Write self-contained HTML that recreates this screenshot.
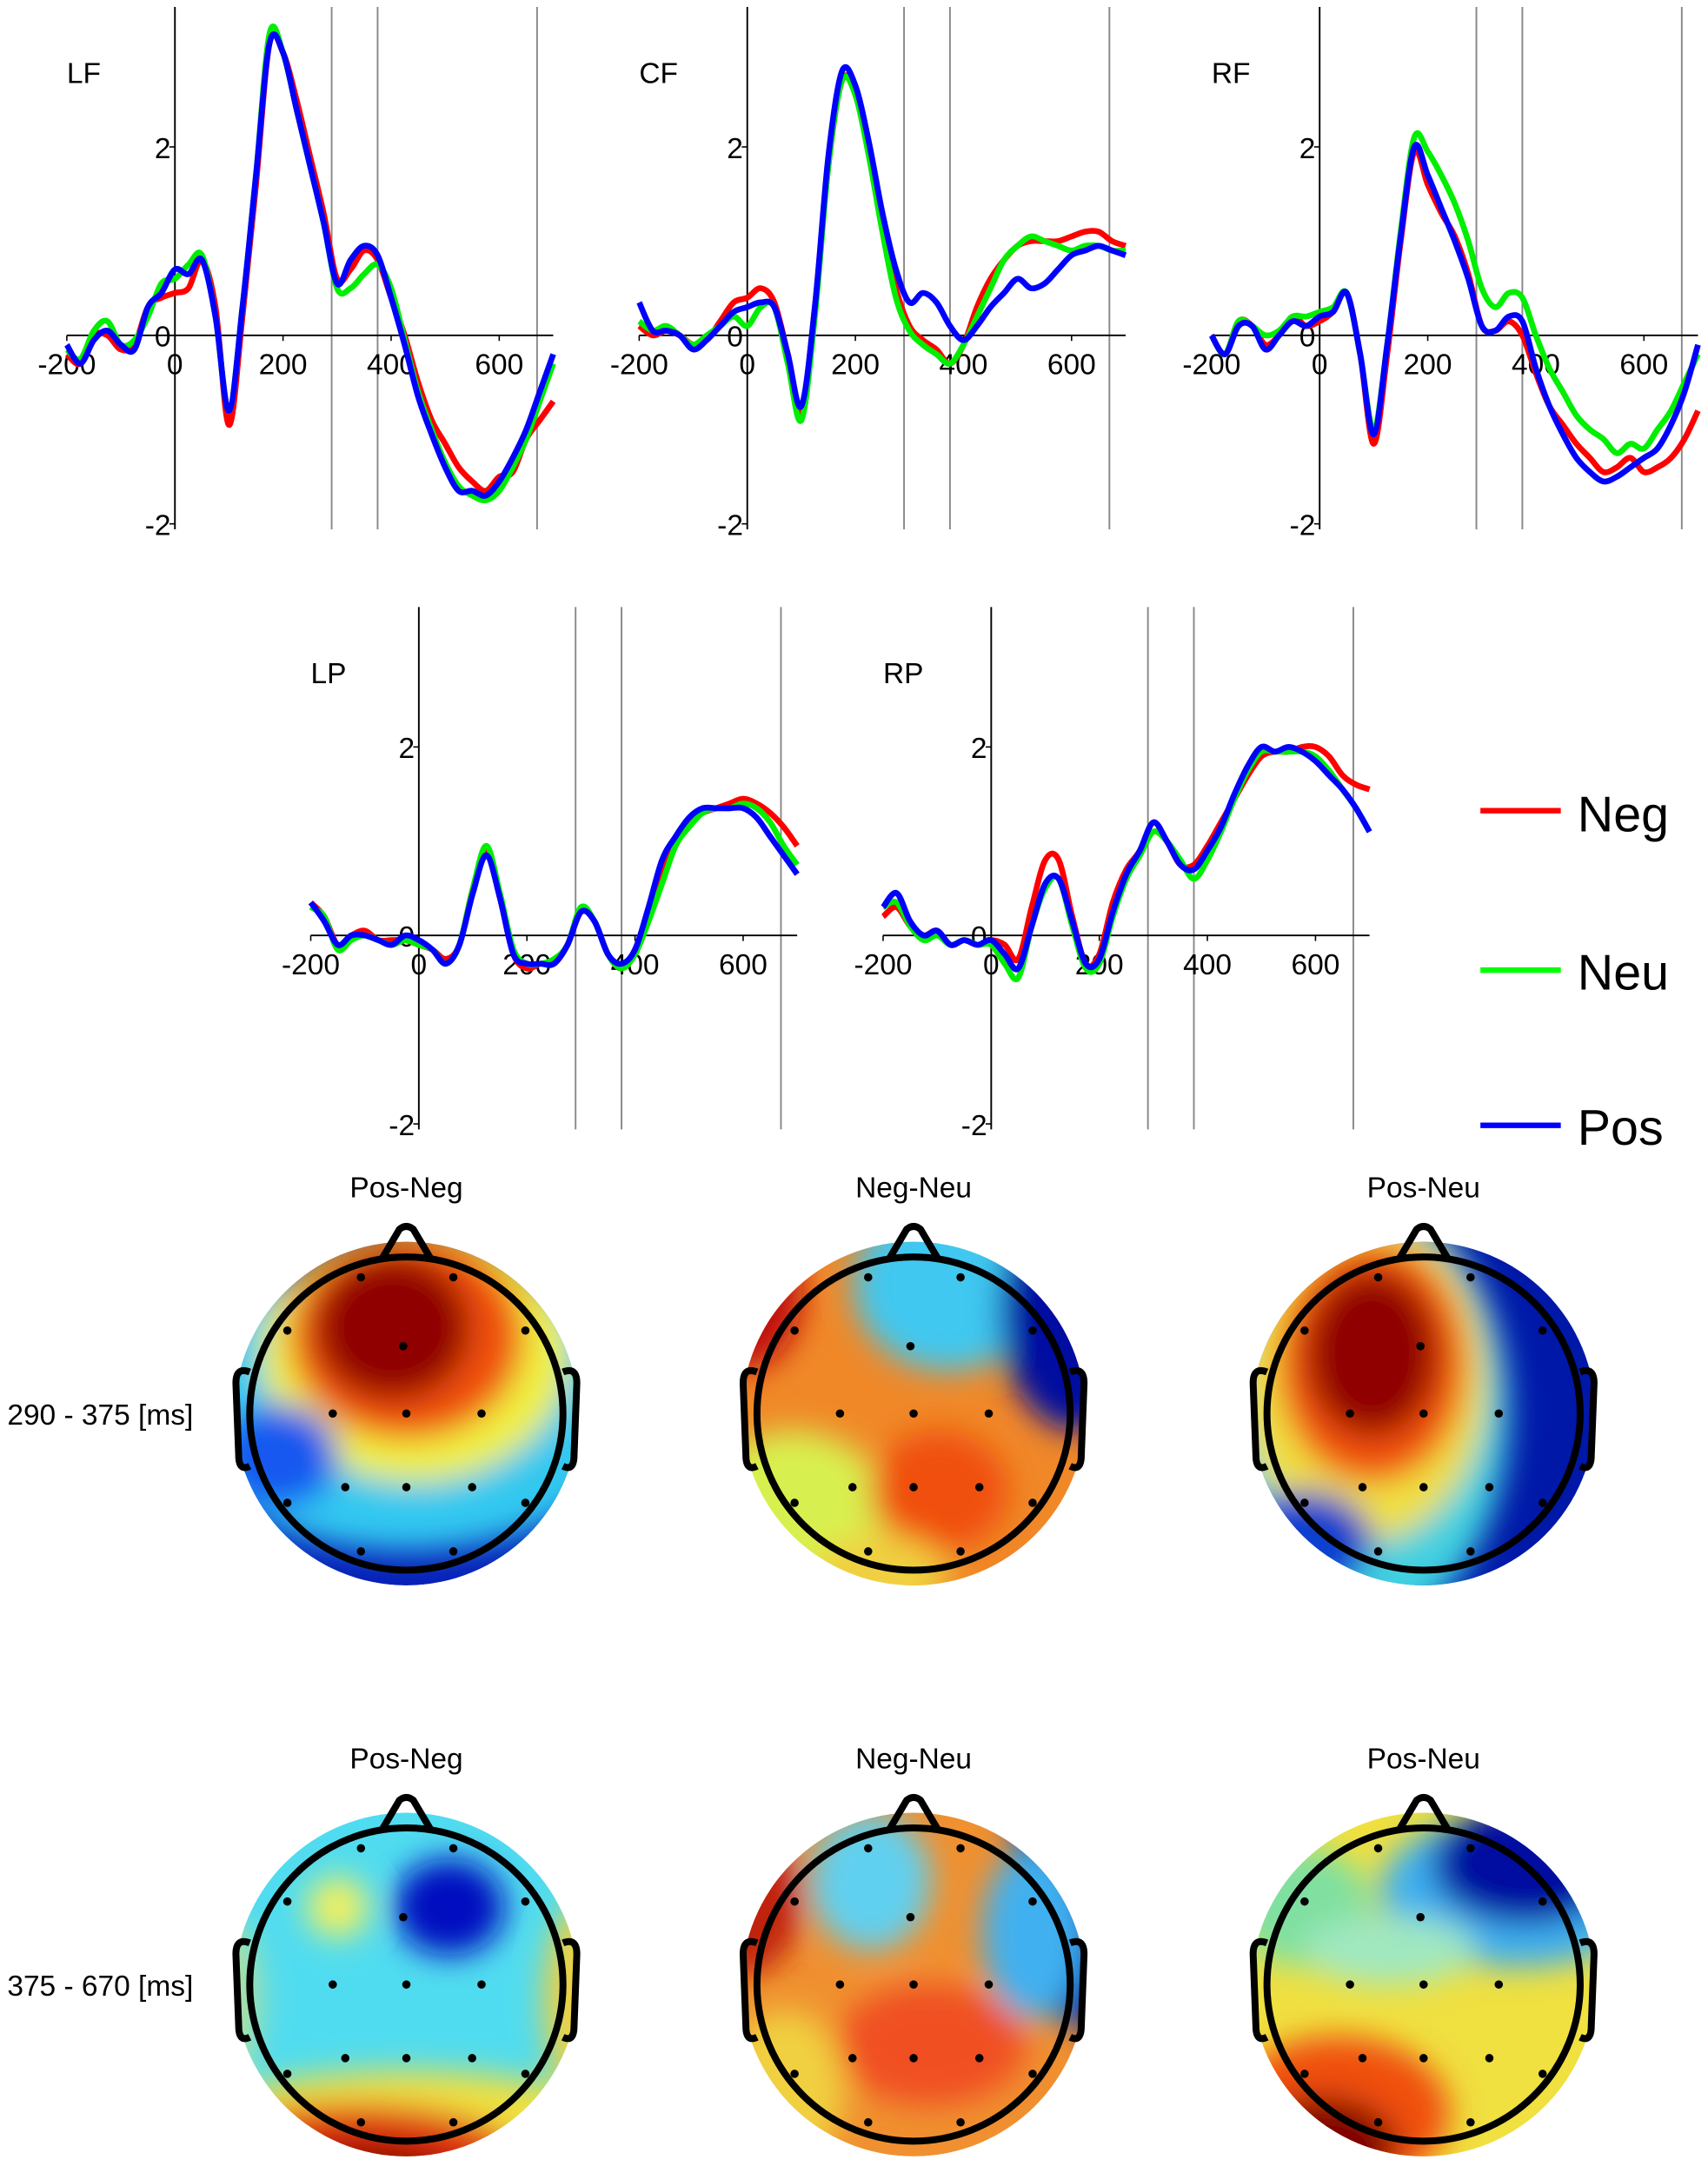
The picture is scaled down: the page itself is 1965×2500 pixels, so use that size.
<!DOCTYPE html>
<html><head><meta charset="utf-8"><style>
html,body{margin:0;padding:0;background:#fff;}
svg{display:block;font-family:"Liberation Sans",sans-serif;}
</style></head><body>
<svg id="fig" width="1965" height="2500" viewBox="0 0 1232 1568" xmlns="http://www.w3.org/2000/svg">
<defs><filter id="blur" x="-50%" y="-50%" width="200%" height="200%"><feGaussianBlur stdDeviation="11"/></filter></defs>
<g id="plots"></g>
<g id="legend">
 <line x1="1068" y1="585" x2="1126" y2="585" stroke="#f00" stroke-width="4"/>
 <text x="1138" y="600" font-size="36">Neg</text>
 <line x1="1068" y1="700" x2="1126" y2="700" stroke="#0f0" stroke-width="4"/>
 <text x="1138" y="714" font-size="36">Neu</text>
 <line x1="1068" y1="812" x2="1126" y2="812" stroke="#00f" stroke-width="4"/>
 <text x="1138" y="826" font-size="36">Pos</text>
</g>
<g id="topos"></g>
</svg>
<script>
const times=[];for(let t=-200;t<=700;t+=25)times.push(t);
const yTicks=[-2,0,2];
const xTicks=[-200,0,200,400,600];
const windows=[290,375,670];
const panelNames=['LF','CF','RF','LP','RP'];
const lfNeg=[-0.2,-0.3,0.0,0.0,-0.15,-0.1,0.3,0.4,0.45,0.5,0.8,0.3,-0.95,0.2,1.6,3.1,3.0,2.5,1.9,1.3,0.6,0.7,0.9,0.8,0.4,0.0,-0.5,-0.9,-1.15,-1.4,-1.55,-1.65,-1.5,-1.45,-1.1,-0.9,-0.7];
const lfNeu=[-0.15,-0.25,0.05,0.15,-0.1,-0.05,0.2,0.55,0.6,0.75,0.85,0.2,-0.8,0.3,1.7,3.2,3.0,2.4,1.8,1.2,0.5,0.5,0.65,0.75,0.5,-0.05,-0.6,-1.0,-1.35,-1.6,-1.7,-1.75,-1.65,-1.4,-1.1,-0.7,-0.3];
const lfPos=[-0.1,-0.3,-0.05,0.05,-0.1,-0.15,0.3,0.45,0.7,0.65,0.8,0.2,-0.8,0.3,1.7,3.1,3.0,2.4,1.8,1.2,0.55,0.8,0.95,0.85,0.4,-0.1,-0.65,-1.05,-1.4,-1.65,-1.65,-1.7,-1.55,-1.3,-1.0,-0.6,-0.2];
const cfNeg=[0.1,0.0,0.05,0.0,-0.1,-0.05,0.15,0.35,0.4,0.5,0.35,-0.2,-0.8,0.3,1.8,2.7,2.6,2.0,1.2,0.5,0.1,-0.05,-0.15,-0.3,-0.1,0.3,0.6,0.8,0.95,1.0,1.0,1.0,1.05,1.1,1.1,1.0,0.95];
const cfNeu=[0.15,0.05,0.1,0.0,-0.1,0.0,0.1,0.2,0.1,0.3,0.3,-0.3,-0.9,0.2,1.8,2.7,2.55,1.9,1.1,0.4,0.05,-0.1,-0.2,-0.3,-0.1,0.2,0.5,0.8,0.95,1.05,1.0,0.95,0.9,0.95,0.95,0.9,0.9];
const cfPos=[0.35,0.05,0.05,0.0,-0.15,-0.05,0.1,0.25,0.3,0.35,0.3,-0.2,-0.75,0.3,1.9,2.8,2.65,2.05,1.3,0.7,0.35,0.45,0.35,0.1,-0.05,0.1,0.3,0.45,0.6,0.5,0.55,0.7,0.85,0.9,0.95,0.9,0.85];
const rfNeg=[0.0,-0.2,0.15,0.1,-0.1,0.0,0.2,0.1,0.15,0.25,0.45,-0.2,-1.15,-0.2,1.0,1.95,1.6,1.3,1.05,0.65,0.1,0.05,0.15,0.0,-0.4,-0.75,-0.95,-1.15,-1.3,-1.45,-1.4,-1.3,-1.45,-1.4,-1.3,-1.1,-0.8];
const rfNeu=[0.0,-0.2,0.15,0.1,0.0,0.05,0.2,0.2,0.25,0.3,0.45,-0.2,-1.0,-0.1,1.1,2.1,1.95,1.7,1.4,1.0,0.5,0.3,0.45,0.4,0.0,-0.35,-0.6,-0.85,-1.0,-1.1,-1.25,-1.15,-1.2,-1.0,-0.8,-0.5,-0.2];
const rfPos=[0.0,-0.2,0.1,0.1,-0.15,0.0,0.15,0.1,0.2,0.25,0.45,-0.2,-1.05,-0.1,1.05,2.0,1.7,1.35,1.0,0.6,0.1,0.05,0.2,0.15,-0.35,-0.75,-1.05,-1.3,-1.45,-1.55,-1.5,-1.4,-1.3,-1.2,-0.95,-0.6,-0.1];
const lpNeg=[0.35,0.2,-0.1,0.0,0.05,-0.05,-0.05,-0.05,-0.1,-0.15,-0.25,-0.1,0.5,0.9,0.4,-0.2,-0.35,-0.3,-0.3,-0.1,0.25,0.15,-0.2,-0.35,-0.15,0.25,0.7,1.0,1.2,1.3,1.35,1.4,1.45,1.4,1.3,1.15,0.95];
const lpNeu=[0.3,0.2,-0.15,-0.05,0.0,-0.05,-0.1,-0.05,-0.1,-0.15,-0.3,-0.1,0.5,0.95,0.45,-0.15,-0.3,-0.3,-0.25,-0.1,0.3,0.15,-0.2,-0.35,-0.2,0.15,0.55,0.95,1.15,1.3,1.35,1.35,1.4,1.35,1.2,0.95,0.75];
const lpPos=[0.35,0.15,-0.1,0.0,0.0,-0.05,-0.1,0.0,-0.05,-0.15,-0.3,-0.1,0.45,0.85,0.4,-0.2,-0.3,-0.3,-0.3,-0.1,0.25,0.15,-0.2,-0.3,-0.15,0.3,0.8,1.05,1.25,1.35,1.35,1.35,1.35,1.25,1.05,0.85,0.65];
const rpNeg=[0.2,0.3,0.1,0.0,0.05,-0.1,-0.05,-0.1,-0.05,-0.1,-0.25,0.3,0.8,0.8,0.2,-0.3,-0.2,0.35,0.7,0.9,1.2,1.0,0.75,0.75,0.95,1.2,1.45,1.7,1.9,1.95,1.95,2.0,2.0,1.9,1.7,1.6,1.55];
const rpNeu=[0.3,0.35,0.1,-0.05,0.0,-0.1,-0.05,-0.1,-0.1,-0.3,-0.45,0.1,0.5,0.6,0.1,-0.35,-0.3,0.2,0.6,0.85,1.1,1.0,0.8,0.6,0.8,1.1,1.45,1.75,1.95,1.95,1.95,1.95,1.9,1.75,1.55,1.35,1.1];
const rpPos=[0.3,0.45,0.15,0.0,0.05,-0.1,-0.05,-0.1,-0.05,-0.2,-0.35,0.1,0.55,0.6,0.15,-0.3,-0.25,0.25,0.65,0.9,1.2,1.0,0.75,0.7,0.9,1.15,1.5,1.8,2.0,1.95,2.0,1.95,1.85,1.7,1.55,1.35,1.1];
const panelData=[[lfNeg,lfNeu,lfPos],[cfNeg,cfNeu,cfPos],[rfNeg,rfNeu,rfPos],[lpNeg,lpNeu,lpPos],[rpNeg,rpNeu,rpPos]];
const panelOrigins=[[126,242],[539,242],[952,242],[302,675],[715,675]];
const colors=['#ff0000','#00ee00','#0000ff'];
const NS='http://www.w3.org/2000/svg';
function mk(tag,attrs,parent){const e=document.createElementNS(NS,tag);for(const k in attrs)e.setAttribute(k,attrs[k]);parent.appendChild(e);return e;}
const plots=document.getElementById('plots');
const sx=0.39, sy=68;
panelData.forEach((series,pi)=>{
  const [ox,oy]=panelOrigins[pi];
  const X=t=>ox+t*sx, Y=v=>oy-v*sy;
  const g=mk('g',{},plots);
  
  
  windows.forEach(w=>{const l=mk('line',{x1:X(w),x2:X(w),y1:oy-237,y2:oy+140,stroke:'#888','stroke-width':1.2},g);
    });
  const ya=mk('line',{x1:ox,x2:ox,y1:oy-237,y2:oy+140,stroke:'#000','stroke-width':1.2},g);
  
  const xa=mk('line',{x1:X(-200),x2:X(700),y1:oy,y2:oy,stroke:'#000','stroke-width':1.2},g);
  
  yTicks.forEach(v=>{mk('line',{x1:ox-4,x2:ox,y1:Y(v),y2:Y(v),stroke:'#000'},g);
    const t=mk('text',{x:ox-3,y:Y(v)+8,'font-size':21,'text-anchor':'end'},g);t.textContent=v;
    });
  xTicks.forEach(v=>{mk('line',{x1:X(v),x2:X(v),y1:oy,y2:oy+4,stroke:'#000'},g);
    const t=mk('text',{x:X(v),y:oy+28,'font-size':21,'text-anchor':'middle'},g);t.textContent=v;
    });
  const lab=mk('text',{x:ox-78,y:oy-182,'font-size':21},g);lab.textContent=panelNames[pi];
  
  series.forEach((vals,si)=>{
    const pts=vals.map((v,i)=>[X(times[i]),Y(v)]);
    let d='M'+pts[0][0]+','+pts[0][1];
    for(let i=0;i<pts.length-1;i++){const p0=pts[Math.max(0,i-1)],p1=pts[i],p2=pts[i+1],p3=pts[Math.min(pts.length-1,i+2)];
      d+=` C${p1[0]+(p2[0]-p0[0])/6},${p1[1]+(p2[1]-p0[1])/6} ${p2[0]-(p3[0]-p1[0])/6},${p2[1]-(p3[1]-p1[1])/6} ${p2[0]},${p2[1]}`;}
    const p=mk('path',{d:d,fill:'none',stroke:colors[si],'stroke-width':4.2,'stroke-linejoin':'round'},g);
    
  });
});
// topomaps
const topoTitles=['Pos-Neg','Neg-Neu','Pos-Neu'];
const topoBases=['#0820b8','#f08828','#0018a8','#50dcf0','#f09030','#f0e040'];
const topoBlobs=[
 [[0,-0.05,1.4,0.85,'#30c8f0'],[0.05,-0.35,0.9,0.75,'#f0f040'],[0,-0.45,0.68,0.6,'#f05010'],[-0.08,-0.5,0.45,0.42,'#900000'],[-0.75,0.25,0.35,0.3,'#1858f0']],
 [[-0.7,0.7,0.6,0.6,'#d8f050'],[0.2,-0.75,0.55,0.5,'#40c8f0'],[0.95,-0.6,0.45,0.7,'#0010a0'],[-1.0,-0.7,0.35,0.45,'#c01010'],[0.15,0.45,0.4,0.35,'#f05010'],[-0.2,0.95,0.4,0.25,'#f0d040']],
 [[-0.45,0,0.95,1.3,'#40d0e0'],[-0.35,-0.2,0.72,0.95,'#f0e040'],[-0.3,-0.3,0.55,0.7,'#f05010'],[-0.3,-0.35,0.38,0.48,'#900000'],[-0.7,0.75,0.4,0.3,'#1040d0']],
 [[0.25,-0.45,0.32,0.28,'#0010c0'],[-0.4,-0.45,0.18,0.18,'#f0f060'],[0,1.0,1.5,0.5,'#f0e040'],[-0.3,1.05,1.0,0.35,'#e03010'],[-0.35,1.15,0.7,0.22,'#800000'],[1.05,0.1,0.25,0.6,'#f0d040'],[-1.05,0.1,0.2,0.5,'#b0e0a0']],
 [[-0.25,-0.6,0.35,0.4,'#60d0f0'],[1.0,-0.55,0.45,0.8,'#0010a0'],[0.7,-0.3,0.3,0.5,'#40b0f0'],[0.1,0.35,0.55,0.35,'#f05020'],[-1.0,-0.5,0.35,0.45,'#c02010'],[-0.75,0.6,0.35,0.45,'#f0d040']],
 [[0.55,-0.55,0.8,0.45,'#40b0f0'],[0.6,-0.7,0.55,0.35,'#0010a0'],[-0.5,0.75,0.65,0.45,'#f05010'],[-0.6,0.95,0.45,0.3,'#800000'],[-0.7,-0.45,0.4,0.35,'#80e0a0'],[-0.2,-0.2,0.5,0.2,'#a0e8c0']]
];
const electrodes=[[-0.29,-0.87],[0.3,-0.87],[-0.76,-0.53],[-0.02,-0.43],[0.76,-0.53],[-0.47,0],[0,0],[0.48,0],[-0.39,0.47],[0,0.47],[0.42,0.47],[-0.76,0.57],[0.76,0.57],[-0.29,0.88],[0.3,0.88]];
const topoCx=[293,659,1027], topoCy=[1020,1432];
const rowLabels=['290 - 375 [ms]','375 - 670 [ms]'];
const topos=document.getElementById('topos');
rowLabels.forEach((s,r)=>{const t=mk('text',{x:5,y:topoCy[r]+8,'font-size':21},topos);t.textContent=s;
  });
for(let m=0;m<6;m++){
  const r=Math.floor(m/3),c=m%3,cx=topoCx[c],cy=topoCy[r],R=124;
  const g=mk('g',{},topos);
  
  
  const t=mk('text',{x:cx,y:cy-156,'font-size':21,'text-anchor':'middle'},g);t.textContent=topoTitles[c];
  
  const cp=mk('clipPath',{id:'cp'+m},g);mk('circle',{cx:cx,cy:cy,r:R},cp);
  const inner=mk('g',{'clip-path':'url(#cp'+m+')'},g);
  mk('circle',{cx:cx,cy:cy,r:R,fill:topoBases[m]},inner);
  const bg=mk('g',{filter:'url(#blur)'},inner);
  topoBlobs[m].forEach(b=>mk('ellipse',{cx:cx+b[0]*R,cy:cy+b[1]*R,rx:b[2]*R,ry:b[3]*R,fill:b[4]},bg));
  const hr=113;
  mk('circle',{cx:cx,cy:cy,r:hr,fill:'none',stroke:'#000','stroke-width':5},g);
  mk('path',{d:`M${cx-18},${cy-hr+2} L${cx-5},${cy-hr-20} Q${cx},${cy-hr-24} ${cx+5},${cy-hr-20} L${cx+18},${cy-hr+2}`,fill:'none',stroke:'#000','stroke-width':5},g);
  [-1,1].forEach(s=>mk('path',{d:`M${cx+s*hr},${cy-30} Q${cx+s*(hr+10)},${cy-34} ${cx+s*(hr+10)},${cy-22} L${cx+s*(hr+8)},${cy+30} Q${cx+s*(hr+8)},${cy+42} ${cx+s*hr},${cy+38}`,fill:'none',stroke:'#000','stroke-width':5},g));
  electrodes.forEach(e=>{const d=mk('circle',{cx:cx+e[0]*hr,cy:cy+e[1]*hr,r:3,fill:'#000'},g);
    });
}
</script>
</body></html>
